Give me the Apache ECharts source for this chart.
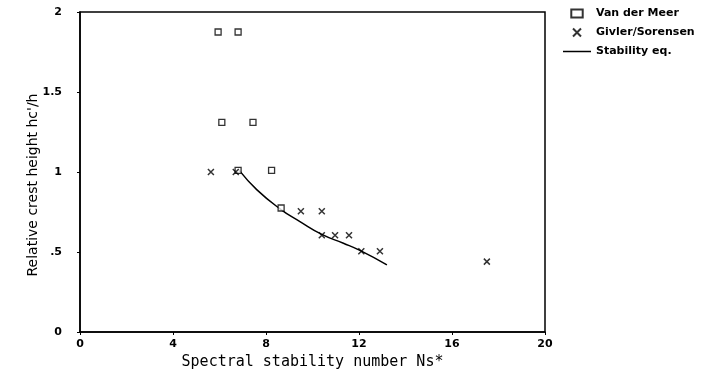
<!DOCTYPE html>
<html>
<head>
<meta charset="utf-8">
<script src="https://cdn.jsdelivr.net/npm/echarts@6/dist/echarts.min.js"></script>
<style>
  html, body { margin: 0; padding: 0; background: #fff; }
  #chart { width: 715px; height: 375px; }
</style>
</head>
<body>
<div id="chart"></div>
<script>
// Van der Meer (squares)
const vanDerMeer = [
  [5.94, 1.875], [6.8, 1.875],
  [6.1, 1.31], [7.44, 1.31],
  [6.8, 1.01], [8.24, 1.01],
  [8.65, 0.775]
];

// Givler/Sorensen (crosses)
const givlerSorensen = [
  [5.63, 1.0], [6.7, 1.0],
  [9.5, 0.755], [10.4, 0.755],
  [10.4, 0.605], [10.97, 0.605], [11.57, 0.605],
  [12.1, 0.505], [12.9, 0.505],
  [17.5, 0.44]
];

// Stability eq. curve
const stabilityEq = [
  [6.85, 1.01], [7.6, 0.89], [8.6, 0.77], [9.46, 0.69],
  [10.4, 0.61], [11.33, 0.555], [12.04, 0.51], [13.2, 0.42]
];

const xTicks = [0, 4, 8, 12, 16, 20];
const yTicks = [0, 0.5, 1, 1.5, 2];

const font = "DejaVu Sans";
const crossPath = "path://M0,0L10,10M10,0L0,10";

const chart = echarts.init(document.getElementById("chart"));

const option = {
  animation: false,
  backgroundColor: "#fff",
  textStyle: { fontFamily: font, color: "#000" },
  grid: { left: 80, right: 170, top: 12, bottom: 43 },
  legend: {
    orient: "vertical",
    left: 558,
    top: 3,
    itemGap: 7,
    itemWidth: 28,
    itemHeight: 8,
    textStyle: { fontFamily: font, fontSize: 11, fontWeight: "bold", color: "#000" },
    data: [
      { name: "Van der Meer", icon: "path://M0,0L10,0L10,7L0,7Z" },
      { name: "Givler/Sorensen", icon: crossPath },
      { name: "Stability eq.", icon: "path://M0,0L28,0L28,1.5L0,1.5Z" }
    ]
  },
  xAxis: {
    type: "value",
    min: 0,
    max: 20,
    interval: 4,
    name: "Spectral stability number Ns*",
    nameLocation: "middle",
    nameGap: 23,
    nameTextStyle: { fontSize: 15, fontFamily: "DejaVu Sans Mono", color: "#000" },
    axisLine: { onZero: false, lineStyle: { color: "#000", width: 1.5 } },
    axisTick: { show: true, length: 3, lineStyle: { color: "#000" } },
    axisLabel: {
      fontSize: 11, fontWeight: "bold", color: "#000", margin: 7,
      formatter: (v) => (xTicks.includes(v) ? String(v) : "")
    },
    splitLine: { show: false }
  },
  yAxis: {
    type: "value",
    min: 0,
    max: 2,
    interval: 0.5,
    name: "Relative crest height hc'/h",
    nameLocation: "middle",
    nameGap: 40,
    nameMoveOverlap: false,
    nameRotate: 90,
    nameTextStyle: { fontSize: 14, fontFamily: font, color: "#000", padding: [0, 26, 0, 0] },
    axisLine: { onZero: false, lineStyle: { color: "#000", width: 1.5 } },
    axisTick: { show: true, length: 3, lineStyle: { color: "#000" } },
    axisLabel: {
      fontSize: 11, fontWeight: "bold", color: "#000", margin: 18,
      formatter: (v) => {
        if (!yTicks.includes(v)) return "";
        if (v === 0.5) return ".5";
        return String(v);
      }
    },
    splitLine: { show: false }
  },
  series: [
    {
      name: "Van der Meer",
      type: "scatter",
      symbol: "rect",
      symbolSize: 6,
      itemStyle: { color: "#fff", borderColor: "#000", borderWidth: 1.3 },
      data: vanDerMeer,
      z: 3
    },
    {
      name: "Givler/Sorensen",
      type: "scatter",
      symbol: crossPath,
      symbolSize: 6,
      itemStyle: { color: "none", borderColor: "#000", borderWidth: 1.5 },
      data: givlerSorensen,
      z: 3
    },
    {
      name: "Stability eq.",
      type: "line",
      smooth: true,
      symbol: "none",
      lineStyle: { color: "#000", width: 1.5 },
      itemStyle: { color: "#000" },
      data: stabilityEq,
      z: 2
    }
  ],
  graphic: [
    // frame: top and right border of the plot box
    {
      type: "rect",
      shape: { x: 80, y: 12, width: 465, height: 320 },
      style: { fill: "none", stroke: "#000", lineWidth: 1.5 },
      silent: true,
      z: 0
    }
  ]
};

chart.setOption(option);
</script>
</body>
</html>
